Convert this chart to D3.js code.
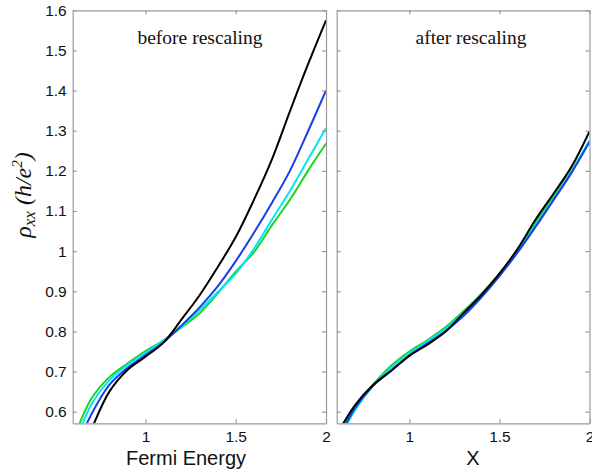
<!DOCTYPE html>
<html><head><meta charset="utf-8">
<script src="https://cdn.jsdelivr.net/npm/d3@7"></script>
<style>body{margin:0;background:#fff}svg{display:block}</style>
</head><body>
<script>
// ---- data ----
const xGrid = [0.6,0.7,0.8,0.9,1.0,1.1,1.2,1.3,1.4,1.5,1.6,1.7,1.8,1.9,2.0];
const seriesNames = ["green","cyan","blue","black"];
const seriesColors = ["#22d022","#00e6f6","#1c3ce6","#000000"];
// before rescaling (vs Fermi Energy)
const beforeGreen = [0.53,0.632,0.686,0.72,0.751,0.778,0.81,0.845,0.895,0.949,0.997,1.064,1.128,1.2,1.268];
const beforeCyan  = [0.51,0.617,0.678,0.716,0.747,0.777,0.812,0.853,0.898,0.944,1.005,1.078,1.15,1.228,1.307];
const beforeBlue  = [0.49,0.593,0.667,0.709,0.741,0.773,0.815,0.86,0.912,0.975,1.045,1.12,1.2,1.298,1.40];
const beforeBlack = [0.44,0.555,0.65,0.704,0.737,0.772,0.83,0.89,0.96,1.035,1.127,1.228,1.348,1.465,1.575];
// after rescaling (vs X)
const afterGreen = [0.535,0.612,0.668,0.715,0.75,0.778,0.81,0.85,0.894,0.944,1.002,1.07,1.135,1.2,1.275];
const afterCyan  = [0.52,0.605,0.665,0.71,0.745,0.775,0.806,0.845,0.89,0.94,0.998,1.064,1.13,1.198,1.275];
const afterBlue  = [0.525,0.61,0.665,0.703,0.74,0.77,0.8,0.838,0.885,0.938,0.996,1.06,1.127,1.195,1.272];
const afterBlack = [0.545,0.617,0.667,0.702,0.739,0.767,0.799,0.845,0.891,0.944,1.005,1.078,1.143,1.21,1.298];
const yTicks = [0.6,0.7,0.8,0.9,1.0,1.1,1.2,1.3,1.4,1.5,1.6];
const xTicks = [1,1.5,2];
const xDomain = [0.597,2];
const yDomain = [0.571,1.6];

const W=592,H=474;
const svg = d3.select("body").append("svg").attr("width",W).attr("height",H);
const yTop=10.3,yBot=423.3;
const y = d3.scaleLinear().domain(yDomain).range([yBot,yTop]);

const panels = [
  {x0:72.7,x1:326,data:[beforeGreen,beforeCyan,beforeBlue,beforeBlack],title:"before rescaling",tx:200,xlabel:"Fermi Energy",lx:186,yLabels:true},
  {x0:336.7,x1:589.5,data:[afterGreen,afterCyan,afterBlue,afterBlack],title:"after rescaling",tx:471,xlabel:"X",lx:473,yLabels:false}
];
const axisColor="#9a9a9a";
panels.forEach((p,pi)=>{
  const x = d3.scaleLinear().domain(xDomain).range([p.x0,p.x1]);
  const g = svg.append("g");
  const cid="clip"+pi;
  svg.append("clipPath").attr("id",cid).append("rect")
    .attr("x",p.x0).attr("y",yTop).attr("width",p.x1-p.x0).attr("height",yBot-yTop);
  const line = d3.line().x(d=>x(d[0])).y(d=>y(d[1])).curve(d3.curveCatmullRom.alpha(0.5));
  const lg = g.append("g").attr("clip-path",`url(#${cid})`);
  p.data.forEach((vals,i)=>{
    lg.append("path").datum(xGrid.map((xv,k)=>[xv,vals[k]]))
      .attr("d",line).attr("fill","none").attr("stroke",seriesColors[i])
      .attr("stroke-width",2).attr("stroke-linejoin","round");
  });
  const ax = [
    d3.axisBottom(x).tickValues(xTicks).tickSizeInner(-4).tickSizeOuter(0).tickPadding(8).tickFormat(d3.format("")),
    d3.axisTop(x).tickValues(xTicks).tickSizeInner(-4).tickSizeOuter(0).tickFormat(""),
    d3.axisLeft(y).tickValues(yTicks).tickSizeInner(-4).tickSizeOuter(0).tickPadding(6).tickFormat(p.yLabels?d3.format(""):""),
    d3.axisRight(y).tickValues(yTicks).tickSizeInner(-4).tickSizeOuter(0).tickFormat("")
  ];
  const pos = [[0,yBot],[0,yTop],[p.x0,0],[p.x1,0]];
  ax.forEach((a,k)=>{
    const ag = g.append("g").attr("transform",`translate(${pos[k][0]},${pos[k][1]})`).call(a);
    ag.selectAll("path,line").attr("stroke",axisColor).attr("stroke-width",1.2);
    ag.selectAll("text").attr("fill","#111").style("font-family","'Liberation Sans',Arial,sans-serif").style("font-size","15.5px");
  });
  g.append("text").attr("x",p.tx).attr("y",44).attr("text-anchor","middle")
    .style("font-family","'Liberation Serif','Times New Roman',serif").style("font-size","19.5px").attr("fill","#111").text(p.title);
  g.append("text").attr("x",p.lx).attr("y",465).attr("text-anchor","middle")
    .style("font-family","'Liberation Sans',Arial,sans-serif").style("font-size","20px").attr("fill","#111").text(p.xlabel);
});
const yl = svg.append("text").attr("transform","translate(31,195) rotate(-90)").attr("text-anchor","middle")
  .style("font-family","'Liberation Serif','Times New Roman',serif").style("font-size","24px").style("font-style","italic").attr("fill","#111");
yl.append("tspan").text("ρ");
yl.append("tspan").attr("dy",4).style("font-size","17px").text("xx");
yl.append("tspan").attr("dy",-4).text(" (h/e");
yl.append("tspan").attr("dy",-9).style("font-size","15px").text("2");
yl.append("tspan").attr("dy",9).text(")");
</script>
</body></html>
